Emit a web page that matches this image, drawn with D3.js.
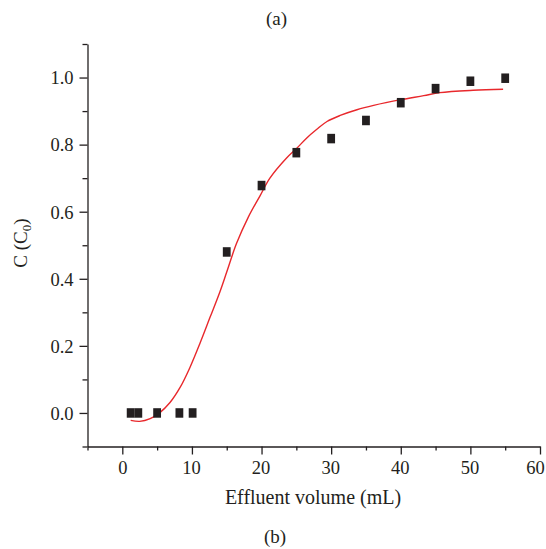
<!DOCTYPE html>
<html>
<head>
<meta charset="utf-8">
<script src="https://cdn.jsdelivr.net/npm/d3@7"></script>
<style>
  html, body { margin: 0; padding: 0; background: #fff; }
  svg { display: block; }
  text { font-family: "Liberation Serif", "Times New Roman", serif; fill: #231f20; }
</style>
</head>
<body>
<svg id="chart" width="546" height="549"></svg>
<script>
// Measured points (Effluent volume, C/C0)
const volume = [1.2, 2.3, 5, 8.2, 10.1, 15, 20, 25, 30, 35, 40, 45, 50, 55];
const concentration = [0, 0, 0, 0, 0, 0.48, 0.678, 0.776, 0.818, 0.872, 0.925, 0.967, 0.989, 0.998];

// Fitted curve
const fitX = [1.2, 2.5, 4.0, 5.4, 6.85, 8.3, 9.7, 11.2, 12.6, 14.0, 15.0, 16.4, 18.1, 19.8, 21.2, 23.6, 25.1, 26.5, 27.9, 29.4, 31.3, 33.7, 36.1, 40.0, 43.3, 45.6, 50.4, 54.7];
const fitY = [-0.022, -0.025, -0.017, 0.001, 0.031, 0.076, 0.135, 0.210, 0.285, 0.360, 0.420, 0.505, 0.584, 0.648, 0.700, 0.760, 0.790, 0.820, 0.845, 0.869, 0.887, 0.904, 0.917, 0.934, 0.946, 0.955, 0.962, 0.965];

const xMajorTicks = [0, 10, 20, 30, 40, 50, 60];
const xMinorTicks = [-5, 5, 15, 25, 35, 45, 55];
const yMajorTicks = [0.0, 0.2, 0.4, 0.6, 0.8, 1.0];
const yMinorTicks = [-0.1, 0.1, 0.3, 0.5, 0.7, 0.9, 1.1];

const topLabel = "(a)";
const bottomLabel = "(b)";
const xTitle = "Effluent volume (mL)";

const svg = d3.select("#chart");
const ink = "#231f20";

const x = d3.scaleLinear().domain([-5, 60]).range([87.5, 540]);
const y = d3.scaleLinear().domain([-0.1, 1.1]).range([446.5, 44]);

// Axes
const xAxisG = svg.append("g").attr("transform", `translate(0,${y(-0.1)})`);
xAxisG.call(d3.axisBottom(x).tickValues(xMinorTicks).tickSize(4).tickFormat(""));
xAxisG.call(g => g.selectAll(".domain").remove());
const xMajor = svg.append("g").attr("transform", `translate(0,${y(-0.1)})`)
  .call(d3.axisBottom(x).tickValues(xMajorTicks).tickSize(8).tickSizeOuter(0).tickFormat(d3.format("d")));

const yMinorG = svg.append("g").attr("transform", `translate(${x(-5)},0)`)
  .call(d3.axisLeft(y).tickValues(yMinorTicks).tickSize(5).tickFormat(""));
yMinorG.call(g => g.selectAll(".domain").remove());
const yMajor = svg.append("g").attr("transform", `translate(${x(-5)},0)`)
  .call(d3.axisLeft(y).tickValues(yMajorTicks).tickSize(8).tickSizeOuter(0).tickFormat(d3.format(".1f")));

svg.selectAll(".domain, .tick line").attr("stroke", ink).attr("stroke-width", 1.3);
svg.selectAll(".tick text")
  .style("font-family", '"Liberation Serif", serif')
  .style("font-size", "18.5px")
  .attr("fill", ink);
xMajor.selectAll(".tick text").attr("y", 14).attr("dy", "0.71em")
  .attr("dx", d => d === 60 ? -5 : (d > 0 ? -1 : 0));
yMajor.selectAll(".tick text").attr("x", -14).attr("dy", "0.34em");

// Fit curve
const fitData = fitX.map((v, i) => [v, fitY[i]]);
svg.append("path")
  .datum(fitData)
  .attr("fill", "none")
  .attr("stroke", "#e8282c")
  .attr("stroke-width", 1.4)
  .attr("d", d3.line().x(d => x(d[0])).y(d => y(d[1])).curve(d3.curveCatmullRom.alpha(0.5)));

// Points
const w = 7.8, h = 9.5;
svg.append("g").selectAll("rect")
  .data(volume.map((v, i) => [v, concentration[i]]))
  .join("rect")
  .attr("x", d => x(d[0]) - w / 2)
  .attr("y", d => y(d[1]) - h / 2)
  .attr("width", w)
  .attr("height", h)
  .attr("fill", ink);

// Labels
svg.append("text").attr("x", 313).attr("y", 504).attr("text-anchor", "middle")
  .style("font-size", "20px").text(xTitle);

const yl = svg.append("text").attr("transform", "translate(27,243) rotate(-90)")
  .attr("text-anchor", "middle").style("font-size", "19px");
yl.append("tspan").text("C (C");
yl.append("tspan").attr("dy", "4").style("font-size", "13px").text("0");
yl.append("tspan").attr("dy", "-4").text(")");

svg.append("text").attr("x", 276.5).attr("y", 25).attr("text-anchor", "middle")
  .style("font-size", "19px").text(topLabel);
svg.append("text").attr("x", 275).attr("y", 543).attr("text-anchor", "middle")
  .style("font-size", "19px").text(bottomLabel);
</script>
</body>
</html>
